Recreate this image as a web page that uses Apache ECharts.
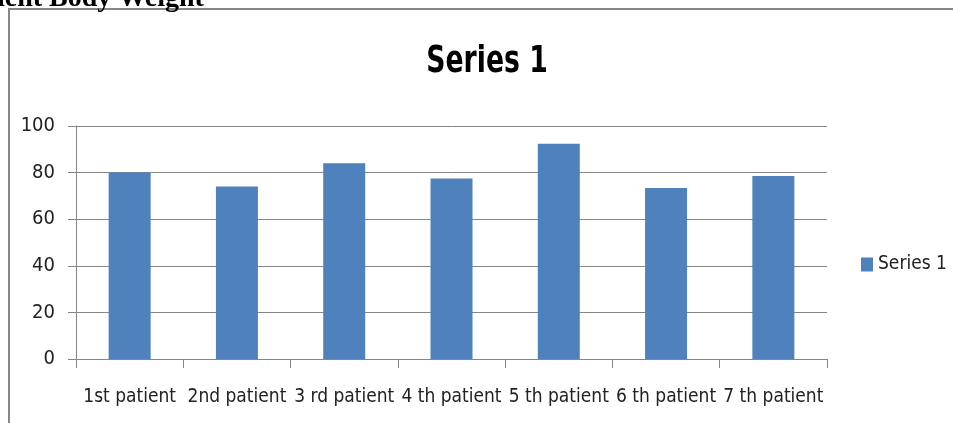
<!DOCTYPE html>
<html>
<head>
<meta charset="utf-8">
<script src="https://cdn.jsdelivr.net/npm/echarts@6/dist/echarts.min.js"></script>
<style>
html,body{margin:0;padding:0;background:#fff;}
#c{width:953px;height:423px;}
</style>
</head>
<body>
<div id="c"></div>
<script>
const categories = ['1st patient', '2nd patient', '3 rd patient', '4 th patient', '5 th patient', '6 th patient', '7 th patient'];
const series1 = [80, 74, 84, 77.5, 92.4, 73.4, 78.5];
const yTicks = [0, 20, 40, 60, 80, 100];
const seriesName = 'Series 1';

const FONT = '"DejaVu Sans Condensed", "Liberation Sans", sans-serif';
const chart = echarts.init(document.getElementById('c'));
chart.setOption({
  animation: false,
  backgroundColor: '#fff',
  legend: {
    data: [seriesName],
    left: 861,
    top: 255,
    padding: 0,
    icon: 'rect',
    itemWidth: 12,
    itemHeight: 14,
    textStyle: { fontFamily: FONT, fontSize: 19, color: '#222', padding: [4, 0, 0, 0] }
  },
  graphic: [
    {
      type: 'rect',
      shape: { x: 9, y: 9, width: 1000, height: 500 },
      style: { fill: 'none', stroke: '#878787', lineWidth: 2 },
      silent: true
    },
    {
      type: 'text',
      x: -3,
      y: -15,
      style: { text: 'ient Body Weight', font: 'bold 28px "Liberation Serif", serif', fill: '#000' },
      silent: true
    },
    {
      type: 'text',
      x: 487,
      y: 62,
      scaleX: 0.78,
      style: {
        text: seriesName,
        font: 'bold 38px "DejaVu Sans Condensed", sans-serif',
        fill: '#000',
        align: 'center',
        verticalAlign: 'middle'
      },
      silent: true
    }
  ],
  grid: { left: 76, right: 126, top: 126, bottom: 64, containLabel: false },
  xAxis: {
    type: 'category',
    data: categories,
    axisLine: { lineStyle: { color: '#868686', width: 1 } },
    axisTick: { show: true, length: 9, lineStyle: { color: '#868686' } },
    axisLabel: { fontFamily: FONT, fontSize: 19, color: '#222', margin: 29, interval: 0 }
  },
  yAxis: {
    type: 'value',
    min: yTicks[0],
    max: yTicks[yTicks.length - 1],
    interval: yTicks[1] - yTicks[0],
    axisLine: { show: true, lineStyle: { color: '#868686', width: 1 } },
    axisTick: { show: true, length: 8, lineStyle: { color: '#868686' } },
    splitLine: { lineStyle: { color: '#868686', width: 1 } },
    axisLabel: { fontFamily: FONT, fontSize: 20, color: '#222', margin: 21 }
  },
  series: [{
    name: seriesName,
    type: 'bar',
    data: series1,
    barWidth: 42,
    itemStyle: { color: '#4F81BD' }
  }]
});
</script>
</body>
</html>
